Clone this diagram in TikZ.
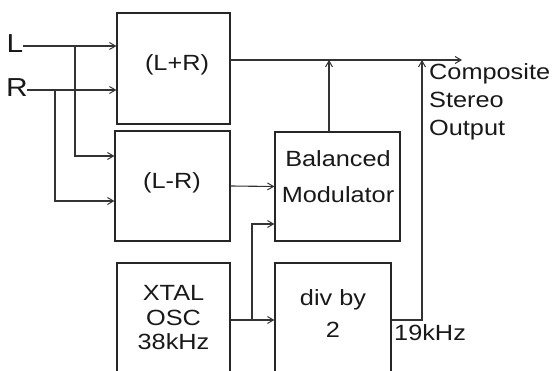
\documentclass[tikz,border=0pt]{standalone}
\usepackage{fontspec}
\setmainfont{Liberation Sans}[FakeStretch=1.15]
\usetikzlibrary{arrows.meta}
\begin{document}
\begin{tikzpicture}[x=1pt,y=-1pt,
  box/.style={draw=black!85,line width=1.2pt,minimum width=#1,inner sep=0pt},
  lbl/.style={font=\fontsize{22}{28}\selectfont,text=black!90,inner sep=0pt,align=center},
  wire/.style={draw=black!80,line width=1.1pt},
  arr/.style={wire,-{Straight Barb[length=6pt,width=7pt,line width=1pt]}}]
\useasboundingbox (0,0) rectangle (554,371);
% boxes
\node[box=113pt,minimum height=111pt] (lp) at (173.5,68.5) {};
\node[box=115pt,minimum height=110pt] (lm) at (172.5,186) {};
\node[box=125pt,minimum height=109pt] (bm) at (337.5,186.5) {};
\node[box=113pt,minimum height=114pt] (xo) at (173.5,320) {};
\node[box=116pt,minimum height=114pt] (dv) at (333,320) {};
% texts
\node[lbl] (tlp) at (177,65) {(L+R)};
\node[lbl] (tlm) at (172,183) {(L-R)};
\node[lbl,font=\fontsize{22}{36}\selectfont] (tbm) at (338,177) {Balanced\\Modulator};
\node[lbl,font=\fontsize{22}{24.5}\selectfont] (txo) at (173.5,318) {XTAL\\OSC\\38kHz};
\node[lbl,font=\fontsize{22}{32}\selectfont] (tdv) at (333,314) {div by\\2};
\node[lbl,font=\fontsize{26}{28}\selectfont] (tL) at (15,44) {L};
\node[lbl,font=\fontsize{26}{28}\selectfont] (tR) at (17,88) {R};
\node[lbl,align=left,anchor=west] (tout) at (429,102) {Composite\\Stereo\\Output};
\node[lbl,anchor=west] (t19) at (394,333) {19kHz};
% junctions / corners
\coordinate (Ls) at (23,46);
\coordinate (Rs) at (27,90);
\coordinate (Lb) at (75,46);
\coordinate (Rb) at (55,90);
\coordinate (Lb2) at (75,156);
\coordinate (Rb2) at (55,201);
\coordinate (top) at (230,60);
\coordinate (out) at (462,60);
\coordinate (bmt) at (329,132);
\coordinate (bmu) at (329,60);
\coordinate (xb) at (252,320);
\coordinate (xb2) at (252,224);
\coordinate (dc) at (422,320);
\coordinate (du) at (422,60);
% connectors
\draw[arr] (Ls) -- (lp.west |- Ls);
\draw[arr] (Rs) -- (lp.west |- Rs);
\draw[arr] (Lb) -- (Lb2) -- (lm.west |- Lb2);
\draw[arr] (Rb) -- (Rb2) -- (lm.west |- Rb2);
\draw[arr] (lm.east) -- (bm.west);
\draw[arr] (top) -- (out);
\draw[arr] (bmt) -- (bmu);
\draw[arr] (xo.east) -- (dv.west);
\draw[arr] (xb) -- (xb2) -- (bm.west |- xb2);
\draw[arr] (dv.east) -- (dc) -- (du);
\end{tikzpicture}
\end{document}
